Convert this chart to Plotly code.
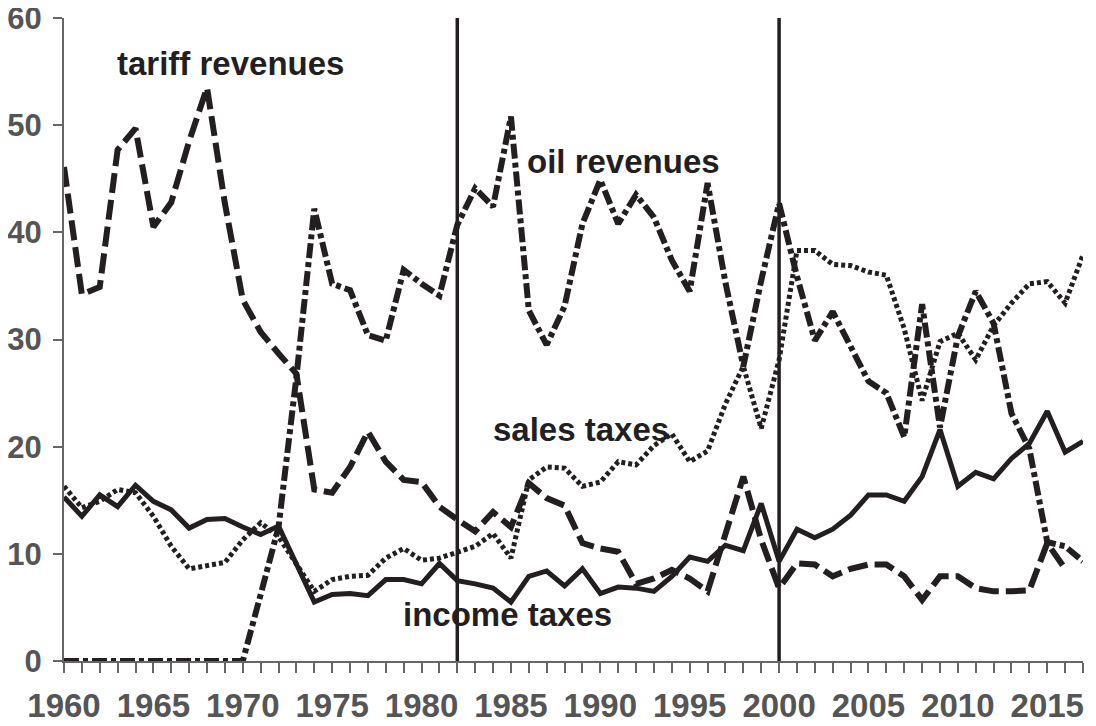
import plotly.graph_objects as go

years = list(range(1960, 2018))

income_taxes = [15.3, 13.5, 15.5, 14.4, 16.4, 14.9, 14.1, 12.4, 13.2, 13.3,
                12.5, 11.8, 12.6, 9.1, 5.5, 6.2, 6.3, 6.1, 7.6, 7.6,
                7.2, 9.1, 7.5, 7.2, 6.8, 5.5, 7.9, 8.4, 7.0, 8.6,
                6.3, 6.9, 6.8, 6.5, 7.9, 9.7, 9.3, 10.8, 10.3, 14.7,
                9.3, 12.3, 11.5, 12.3, 13.6, 15.5, 15.5, 14.9, 17.2, 21.6,
                16.3, 17.6, 17.0, 18.9, 20.3, 23.3, 19.5, 20.5]

sales_taxes = [16.3, 14.3, 14.9, 16.0, 15.7, 13.5, 10.7, 8.6, 8.9, 9.2,
               11.3, 12.9, 11.6, 9.1, 6.5, 7.6, 7.9, 8.0, 9.6, 10.5,
               9.4, 9.6, 10.1, 10.7, 11.9, 9.6, 16.9, 18.1, 18.0, 16.3,
               16.7, 18.6, 18.3, 20.1, 21.2, 18.6, 19.6, 24.0, 27.5, 21.7,
               28.1, 38.3, 38.3, 37.0, 36.9, 36.3, 36.0, 31.0, 24.3, 29.8,
               30.6, 28.1, 31.3, 33.4, 35.2, 35.4, 33.4, 37.9]

tariff_revenues = [46.1, 34.2, 34.9, 47.7, 49.7, 40.5, 42.8, 48.5, 53.5, 42.7,
                   33.7, 30.7, 28.7, 26.8, 16.0, 15.7, 18.1, 21.4, 18.6, 16.9,
                   16.7, 14.4, 13.2, 12.1, 13.9, 12.5, 16.6, 15.2, 14.5, 11.0,
                   10.5, 10.2, 7.2, 7.7, 8.5, 7.7, 6.5, 12.0, 17.2, 11.3,
                   6.8, 9.1, 9.0, 7.9, 8.6, 9.0, 9.0, 7.9, 5.7, 7.9,
                   7.9, 6.8, 6.5, 6.5, 6.6, 11.0, 8.6, None]

oil_revenues = [0, 0, 0, 0, 0, 0, 0, 0, 0, 0,
                0, 6.2, 12.5, 26.5, 42.2, 35.2, 34.6, 30.4, 29.9, 36.5,
                35.2, 34.1, 40.7, 44.1, 42.4, 50.8, 32.7, 29.5, 33.1, 40.8,
                44.9, 40.8, 43.5, 41.4, 37.4, 34.5, 44.6, 35.3, 27.5, 35.5,
                42.7, 35.9, 29.9, 32.6, 29.3, 26.1, 25.0, 20.9, 33.3, 21.8,
                30.3, 34.5, 31.5, 23.1, 19.8, 11.1, 10.7, 9.3]

break_years = [1982, 2000]

labels = ["tariff revenues", "oil revenues", "sales taxes", "income taxes"]
label_x = [1969.3, 1991.3, 1988.9, 1984.8]
label_y = [55.8, 46.6, 21.6, 4.3]

ink = "#231f20"
axis_gray = "#666666"
font_family = "Liberation Sans, Arial, Helvetica, sans-serif"

fig = go.Figure()

fig.add_trace(go.Scatter(x=years, y=tariff_revenues, mode="lines", name="tariff revenues",
                         line=dict(color=ink, width=6, dash="20px,7px"), cliponaxis=False))
fig.add_trace(go.Scatter(x=years, y=oil_revenues, mode="lines", name="oil revenues",
                         line=dict(color=ink, width=6, dash="15px,4px,5px,4px"), cliponaxis=False))
fig.add_trace(go.Scatter(x=years, y=sales_taxes, mode="lines", name="sales taxes",
                         line=dict(color=ink, width=5, dash="4px,3px"), cliponaxis=False))
fig.add_trace(go.Scatter(x=years, y=income_taxes, mode="lines", name="income taxes",
                         line=dict(color=ink, width=5), cliponaxis=False))

for bx in break_years:
    fig.add_shape(type="line", x0=bx, x1=bx, y0=0, y1=60, xref="x", yref="y",
                  line=dict(color=ink, width=3.5))

for t, lx, ly in zip(labels, label_x, label_y):
    fig.add_annotation(x=lx, y=ly, text="<b>%s</b>" % t, showarrow=False,
                       xanchor="center", yanchor="middle",
                       font=dict(family=font_family, size=33, color=ink))

tick_text = [str(y) if y % 5 == 0 else "" for y in years]

# the page body adds an 8px offset; the figure is sized to fill the rest of the window
fig.update_layout(
    width=1088, height=718,
    margin=dict(l=56, r=13, t=10, b=65),
    paper_bgcolor="white", plot_bgcolor="white",
    showlegend=False,
    font=dict(family=font_family, color="#555555"),
    xaxis=dict(range=[1960, 2017], tickvals=years, ticktext=tick_text, automargin=False,
               showgrid=False, zeroline=False, showline=True, linecolor=axis_gray, linewidth=2,
               ticks="outside", ticklen=10, tickwidth=2, tickcolor=axis_gray,
               tickfont=dict(family=font_family, size=33, color="#555555", weight="bold"),
               ticklabelstandoff=4, ticklabeloverflow="allow", fixedrange=True),
    yaxis=dict(range=[0, 60], tickvals=[0, 10, 20, 30, 40, 50, 60], automargin=False,
               showgrid=False, zeroline=False, showline=True, linecolor=axis_gray, linewidth=2,
               ticks="outside", ticklen=9, tickwidth=2, tickcolor=axis_gray,
               tickfont=dict(family=font_family, size=31, color="#555555", weight="bold"),
               ticklabelstandoff=5, ticklabeloverflow="allow", fixedrange=True),
)

fig.write_html("out.html")
